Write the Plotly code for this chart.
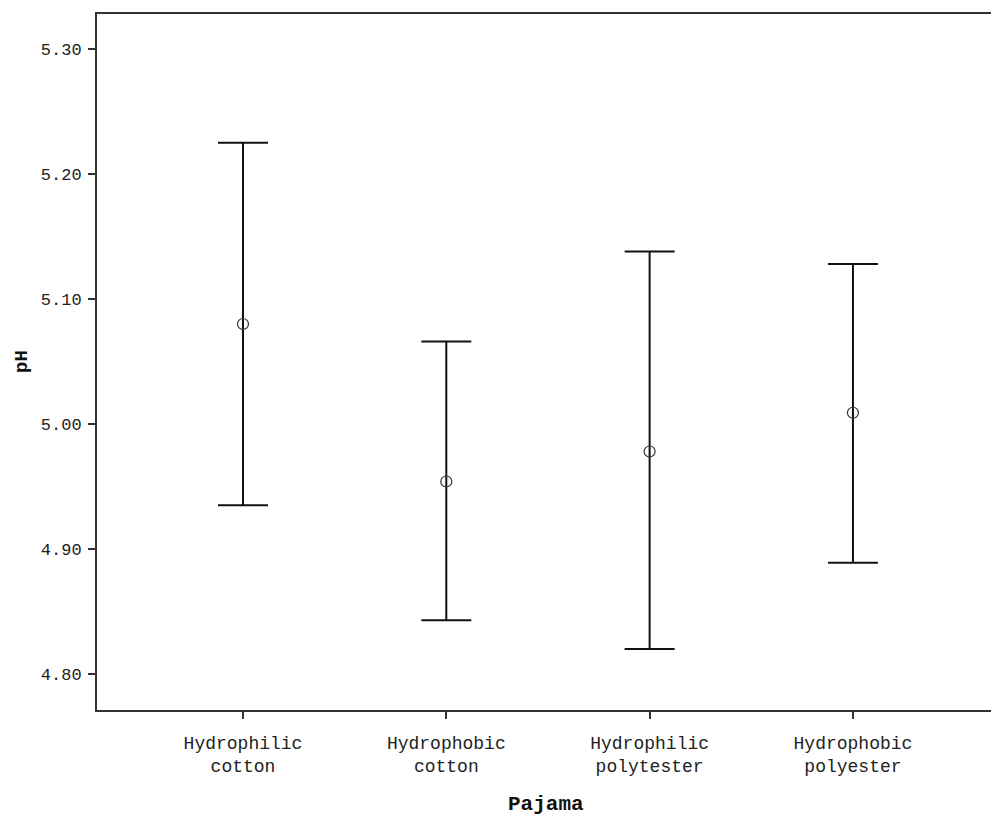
import plotly.graph_objects as go

categories = ["Hydrophilic<br>cotton", "Hydrophobic<br>cotton", "Hydrophilic<br>polytester", "Hydrophobic<br>polyester"]
means = [5.080, 4.954, 4.978, 5.009]
upper = [5.225, 5.066, 5.138, 5.128]
lower = [4.935, 4.843, 4.820, 4.889]
y_ticks = [4.80, 4.90, 5.00, 5.10, 5.20, 5.30]
y_tick_labels = ["4.80", "4.90", "5.00", "5.10", "5.20", "5.30"]

xpos = list(range(len(categories)))
err_plus = [u - m for u, m in zip(upper, means)]
err_minus = [m - l for m, l in zip(means, lower)]

font_mono = "Liberation Mono, DejaVu Sans Mono, monospace"

fig = go.Figure()
fig.add_trace(go.Scatter(
    x=xpos, y=means, mode="markers",
    marker=dict(symbol="circle-open", size=11, color="#333333", line=dict(width=1.2)),
    error_y=dict(type="data", symmetric=False, array=err_plus, arrayminus=err_minus,
                 color="#111111", thickness=2, width=25),
    showlegend=False,
))

fig.update_layout(
    width=991, height=820,
    margin=dict(l=97, r=0, t=14, b=110),
    paper_bgcolor="white", plot_bgcolor="white",
    font=dict(family=font_mono, size=17, color="#222222"),
    xaxis=dict(
        range=[-0.718, 3.679], tickvals=xpos, ticktext=categories,
        showgrid=False, zeroline=False,
        showline=True, linecolor="#333333", linewidth=2, mirror=True,
        ticks="outside", ticklen=7, tickwidth=2, tickcolor="#333333",
        ticklabelstandoff=8,
        tickfont=dict(family=font_mono, size=18, color="#222222"),
    ),
    yaxis=dict(
        range=[4.7712, 5.328], tickvals=y_ticks, ticktext=y_tick_labels,
        showgrid=False, zeroline=False,
        showline=True, linecolor="#333333", linewidth=2,
        ticks="outside", ticklen=7, tickwidth=2, tickcolor="#333333",
        ticklabelstandoff=3,
        tickfont=dict(family=font_mono, size=17, color="#222222"),
    ),
    annotations=[
        dict(text="<b>Pajama</b>", xref="paper", yref="paper", x=(546 - 97) / 894, y=(710 - 804) / 696,
             showarrow=False, xanchor="center", yanchor="middle",
             font=dict(family=font_mono, size=21, color="#111111")),
        dict(text="<b>pH</b>", xref="paper", yref="paper", x=(22 - 97) / 894, y=(710 - 362) / 696,
             showarrow=False, textangle=-90, xanchor="center", yanchor="middle",
             font=dict(family=font_mono, size=19, color="#111111")),
    ],
)

fig.write_html("out.html")
